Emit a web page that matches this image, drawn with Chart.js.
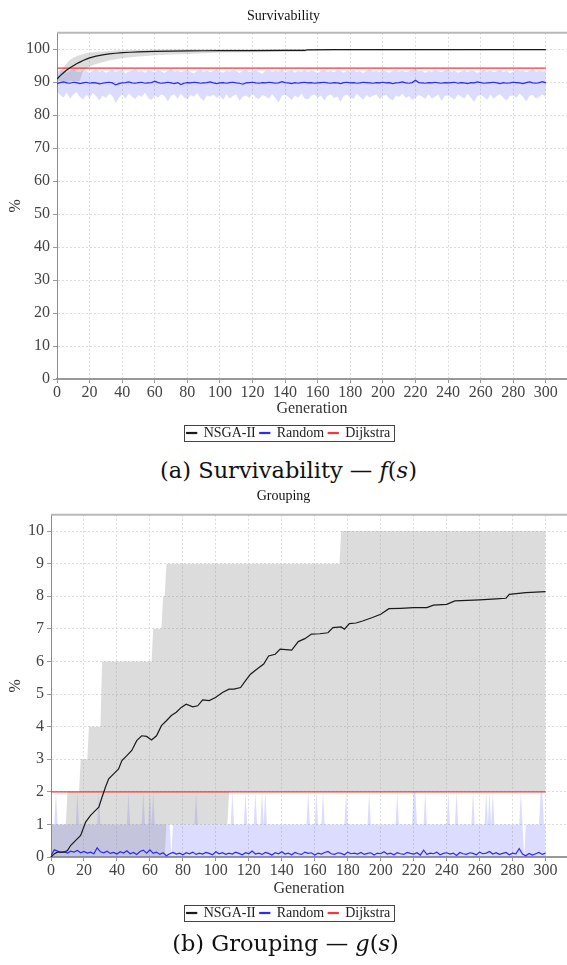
<!DOCTYPE html>
<html>
<head>
<meta charset="utf-8">
<script src="https://cdn.jsdelivr.net/npm/chart.js@4.4.0/dist/chart.umd.min.js"></script>
<style>
body { margin: 0; background: #fff; width: 567px; height: 965px; position: relative; overflow: hidden; }
.box { position: absolute; left: 0; width: 567px; }
.cap { position: absolute; left: 0; width: 567px; text-align: center; font-family: "DejaVu Serif", serif; font-size: 22.5px; color: #111; }
</style>
</head>
<body>
<div class="box" style="top:0"><canvas id="c1" width="567" height="456"></canvas></div>
<div class="cap" style="top:457px;left:5px">(a) Survivability — <i>f</i>(<i>s</i>)</div>
<div class="box" style="top:480px"><canvas id="c2" width="567" height="456"></canvas></div>
<div class="cap" style="top:930px;left:2px">(b) Grouping — <i>g</i>(<i>s</i>)</div>
<script>
// generations sampled every 2 for the noisy Random series
const gens = Array.from({length: 151}, (_, i) => i * 2);
const allGens = Array.from({length: 301}, (_, i) => i);

// ---- (a) Survivability ----
const nsgaGen1 = [0, 2, 4, 6, 8, 10, 12, 14, 16, 18, 20, 24, 28, 32, 36, 40, 45, 50, 55, 60, 70, 80, 90, 100, 120, 140, 152, 154, 170, 200, 250, 300];
const nsgaMean1 = [91.0, 92.0, 92.9, 93.7, 94.4, 95.0, 95.6, 96.1, 96.6, 97.0, 97.4, 97.9, 98.3, 98.6, 98.8, 99.0, 99.1, 99.2, 99.3, 99.35, 99.45, 99.5, 99.55, 99.6, 99.62, 99.65, 99.66, 99.85, 99.88, 99.9, 99.92, 99.92];
const nsgaHi1 = [91.4, 93.0, 94.5, 95.8, 96.8, 97.4, 97.9, 98.3, 98.6, 98.8, 99.0, 99.2, 99.35, 99.5, 99.6, 99.7, 99.75, 99.8, 99.85, 99.9, 99.95, 100, 100, 100, 100, 100, 100, 100, 100, 100, 100, 100];
const nsgaLo1 = [90.6, 90.3, 90.2, 90.1, 90.3, 90.4, 90.4, 90.4, 93.4, 94.1, 94.8, 95.5, 96.1, 96.6, 97.0, 97.3, 97.6, 97.8, 98.0, 98.2, 98.4, 98.6, 98.8, 99.0, 99.1, 99.2, 99.2, 99.6, 99.6, 99.65, 99.7, 99.7];

const randMean1 = [
  89.6, 89.9, 90.1, 89.8, 89.7, 90.0, 89.9, 89.6, 89.8, 90.0,
  89.7, 89.9, 89.8, 89.5, 89.7, 89.9, 90.0, 89.8, 89.2, 89.6,
  89.8, 89.9, 90.1, 89.8, 89.7, 89.9, 90.0, 89.7, 89.8, 89.9,
  90.3, 89.9, 89.7, 89.8, 90.0, 89.8, 89.6, 89.9, 89.3, 89.7,
  89.9, 89.8, 90.0, 89.9, 89.7, 89.8, 89.9, 90.1, 89.8, 89.6,
  89.8, 89.9, 89.7, 89.9, 90.0, 89.8, 89.7, 89.4, 89.8, 89.9,
  90.0, 89.8, 89.7, 89.9, 89.8, 90.0, 89.9, 89.7, 89.8, 90.2,
  89.9, 89.8, 89.6, 89.9, 89.7, 89.9, 90.0, 89.8, 89.9, 89.7,
  89.8, 89.9, 90.0, 89.8, 89.7, 89.9, 89.8, 89.6, 89.9, 90.0,
  89.8, 89.9, 89.7, 89.8, 90.0, 89.9, 89.8, 89.7, 89.9, 89.8,
  90.0, 89.8, 89.9, 89.6, 89.8, 89.9, 90.1, 89.8, 89.7, 89.9,
  90.6, 89.9, 89.8, 89.7, 89.9, 89.8, 90.0, 89.8, 89.7, 89.9,
  89.8, 89.9, 90.0, 89.7, 89.9, 89.8, 89.6, 89.9, 89.8, 90.1,
  89.9, 89.7, 89.8, 89.9, 90.0, 89.8, 89.6, 89.9, 89.7, 89.8,
  90.0, 89.9, 89.8, 89.6, 89.9, 90.1, 89.8, 89.7, 89.9, 90.2,
  89.8
];
const randHi1 = [
  93.2, 93.8, 93.5, 92.9, 93.6, 94.1, 93.3, 93.0, 93.7, 93.4,
  92.8, 93.5, 94.0, 93.2, 93.6, 92.9, 93.4, 93.9, 93.1, 93.5,
  93.8, 92.7, 93.3, 93.6, 94.0, 93.2, 93.5, 92.9, 93.7, 93.4,
  93.1, 93.8, 93.3, 92.8, 93.5, 94.1, 93.2, 93.6, 93.0, 93.4,
  93.9, 93.1, 92.7, 93.5, 93.8, 93.2, 93.6, 93.0, 93.4, 94.0,
  93.3, 92.9, 93.6, 93.2, 93.7, 93.4, 92.8, 93.5, 93.9, 93.1,
  93.4, 93.7, 93.0, 92.6, 93.5, 93.8, 93.2, 93.6, 93.3, 94.1,
  93.0, 93.4, 93.7, 92.9, 93.5, 93.2, 93.8, 93.1, 93.6, 93.3,
  92.8, 93.5, 93.9, 93.2, 93.4, 93.0, 93.7, 93.5, 92.9, 93.6,
  93.3, 93.8, 93.1, 93.4, 92.7, 93.6, 94.0, 93.2, 93.5, 93.1,
  93.7, 93.3, 92.9, 93.5, 93.8, 93.2, 93.6, 93.0, 93.4, 93.9,
  94.2, 93.3, 93.6, 92.8, 93.5, 93.1, 93.7, 93.4, 93.0, 93.6,
  93.9, 93.2, 93.5, 92.9, 93.3, 93.7, 93.1, 93.6, 93.4, 92.8,
  93.5, 93.8, 93.2, 93.6, 93.0, 93.4, 93.9, 93.1, 93.5, 92.7,
  93.3, 93.8, 93.4, 93.6, 93.0, 93.5, 94.0, 93.2, 93.6, 93.3,
  93.5
];
const randLo1 = [
  87.2, 86.1, 85.4, 86.8, 85.0, 86.3, 87.0, 85.6, 84.8, 86.2,
  85.3, 86.7, 85.8, 84.5, 86.0, 85.2, 86.5, 85.9, 83.6, 85.4,
  86.3, 85.1, 86.6, 85.7, 84.9, 86.1, 85.5, 86.8, 85.2, 84.6,
  86.0, 85.3, 86.4, 85.8, 84.2, 85.9, 86.3, 85.0, 86.5, 85.4,
  84.8, 86.1, 85.6, 86.7, 85.2, 84.4, 86.0, 85.7, 86.2, 85.3,
  85.9, 84.7, 86.4, 85.1, 85.8, 86.3, 84.3, 85.6, 86.0, 85.2,
  86.5, 85.4, 84.9, 86.1, 85.7, 85.0, 86.4, 85.3, 83.8, 85.9,
  86.2, 85.5, 84.6, 86.0, 85.3, 86.6, 85.1, 84.8, 85.9, 86.3,
  85.4, 86.0, 84.5, 85.8, 86.4, 85.2, 85.7, 84.1, 85.9, 86.2,
  85.3, 85.0, 86.5, 85.6, 84.7, 86.1, 85.4, 85.9, 86.3, 84.9,
  85.8, 86.2, 85.1, 84.4, 86.0, 85.5, 86.6, 85.2, 85.8, 84.6,
  85.3, 86.1, 85.7, 84.9, 86.4, 85.0, 85.6, 86.2, 84.3, 85.9,
  86.0, 85.4, 84.8, 86.3, 85.7, 85.1, 86.5, 85.3, 84.0, 85.8,
  86.1, 85.5, 84.7, 86.2, 85.0, 85.9, 86.4, 85.2, 84.5, 85.8,
  86.0, 85.3, 86.6, 85.6, 84.2, 85.9, 86.1, 85.0, 85.7, 86.3,
  85.5
];
const dijkstra1 = 94.3;

// ---- (b) Grouping ----
const nsgaGen2 = [0, 2, 4, 8, 10, 12, 15, 18, 21, 24, 27, 29, 31, 33, 35, 38, 41, 43, 46, 49, 52, 55, 58, 61, 64, 67, 70, 73, 76, 79, 82, 86, 89, 92, 96, 100, 104, 108, 111, 115, 118, 121, 125, 129, 132, 136, 139, 146, 150, 154, 158, 163, 168, 171, 176, 178, 181, 185, 189, 195, 200, 205, 212, 220, 228, 232, 240, 245, 260, 270, 276, 278, 288, 300];
const nsgaMean2 = [0, 0.1, 0.15, 0.15, 0.2, 0.36, 0.51, 0.66, 1.07, 1.28, 1.43, 1.53, 1.84, 2.14, 2.40, 2.55, 2.70, 2.96, 3.11, 3.27, 3.57, 3.72, 3.70, 3.59, 3.72, 4.03, 4.18, 4.34, 4.44, 4.59, 4.69, 4.61, 4.64, 4.82, 4.80, 4.90, 5.05, 5.15, 5.15, 5.20, 5.41, 5.61, 5.77, 5.92, 6.17, 6.22, 6.38, 6.35, 6.61, 6.70, 6.84, 6.85, 6.88, 7.04, 7.06, 6.99, 7.16, 7.18, 7.24, 7.35, 7.45, 7.62, 7.63, 7.65, 7.65, 7.73, 7.75, 7.86, 7.89, 7.92, 7.94, 8.06, 8.11, 8.14];
const nsgaBandGen2 = [0, 9, 10, 17, 18, 22, 23, 30, 31, 61, 62, 67, 68, 69, 70, 107, 108, 175, 176, 300];
const nsgaHi2 = [1, 1, 2, 2, 3, 3, 4, 4, 6, 6, 7, 7, 8, 8, 9, 9, 9, 9, 10, 10];
const nsgaLo2 = [0, 0, 0, 0, 0, 0, 0, 0, 0, 0, 0, 0, 0, 0, 1, 1, 2, 2, 2, 2];

const randMean2 = [
  0.05, 0.22, 0.18, 0.14, 0.16, 0.12, 0.18, 0.15, 0.20, 0.13,
  0.17, 0.12, 0.15, 0.10, 0.28, 0.16, 0.13, 0.18, 0.11, 0.14,
  0.09, 0.16, 0.12, 0.19, 0.10, 0.14, 0.08, 0.17, 0.21, 0.12,
  0.22, 0.11, 0.15, 0.08, 0.13, 0.04, 0.10, 0.14, 0.09, 0.12,
  0.07, 0.13, 0.10, 0.15, 0.08, 0.12, 0.09, 0.14, 0.11, 0.07,
  0.16, 0.10, 0.13, 0.08, 0.12, 0.09, 0.15, 0.11, 0.07, 0.13,
  0.10, 0.18, 0.09, 0.12, 0.08, 0.14, 0.11, 0.06, 0.13, 0.10,
  0.16, 0.09, 0.12, 0.07, 0.14, 0.10, 0.08, 0.15, 0.11, 0.13,
  0.06, 0.12, 0.09, 0.14, 0.17, 0.10, 0.08, 0.13, 0.11, 0.07,
  0.15, 0.10, 0.12, 0.09, 0.14, 0.08, 0.11, 0.13, 0.06, 0.12,
  0.10, 0.16, 0.09, 0.12, 0.07, 0.13, 0.10, 0.08, 0.14, 0.11,
  0.09, 0.13, 0.06, 0.21, 0.08, 0.12, 0.10, 0.15, 0.07, 0.11,
  0.13, 0.09, 0.12, 0.05, 0.14, 0.10, 0.08, 0.13, 0.11, 0.07,
  0.15, 0.10, 0.12, 0.17, 0.09, 0.13, 0.08, 0.11, 0.14, 0.07,
  0.12, 0.10, 0.26, 0.09, 0.04, 0.11, 0.06, 0.10, 0.14, 0.08,
  0.12
];
// Random max is 1 except these generations
const randSpikeGens2 = [3, 16, 29, 47, 56, 60, 62, 88, 110, 118, 124, 128, 130, 156, 161, 165, 179, 193, 210, 220, 221, 227, 241, 246, 256, 264, 266, 268, 285, 297, 298];
const randGapGens2 = [73, 287];
const dijkstra2 = 2;

const serif = "'Liberation Serif', 'Times New Roman', serif";
const cGray = 'rgba(150,150,150,0.33)';
const cBlue = 'rgba(80,80,255,0.2)';

const pts = (xs, ys) => xs.map((x, i) => ({x: x, y: ys[i]}));

function lineDs(label, data, color) {
  return {label: label, data: data, borderColor: color, backgroundColor: color,
    borderWidth: 1.2, pointRadius: 0, fill: false, tension: 0};
}
function bandDs(data, color, fill) {
  return {label: '', data: data, borderWidth: 0, borderColor: 'rgba(0,0,0,0)',
    backgroundColor: color, pointRadius: 0, fill: fill, tension: 0};
}

const framePlugin = {
  id: 'frame',
  afterLayout(chart) {
    // legend sits a little right of centre in the original figure
    chart.legend.left += 5;
    chart.legend.right += 5;
  },
  afterDraw(chart) {
    const {ctx, chartArea: a, legend} = chart;
    ctx.save();
    ctx.strokeStyle = '#b8b8b8';
    ctx.lineWidth = 2;
    ctx.beginPath();
    ctx.moveTo(a.left, a.top);
    ctx.lineTo(a.right, a.top);
    ctx.stroke();
    const hb = legend.legendHitBoxes;
    if (hb.length) {
      const l = Math.min(...hb.map(b => b.left)) - 3;
      const r = Math.max(...hb.map(b => b.left + b.width)) + 3;
      const t = hb[0].top - 1;
      const b = hb[0].top + hb[0].height + 1;
      ctx.strokeStyle = '#444';
      ctx.lineWidth = 1;
      ctx.strokeRect(Math.round(l) + 0.5, Math.round(t) + 0.5, Math.round(r - l), Math.round(b - t));
    }
    ctx.restore();
  }
};

function makeOptions(titleText, yMax, yStep, yWidth, titleGap, xHeight) {
  return {
    responsive: false,
    animation: false,
    layout: {padding: {top: 0, right: 0, bottom: 6, left: 0}},
    plugins: {
      title: {display: true, text: titleText, color: '#111',
        font: {family: serif, size: 14, weight: 'normal'}, padding: {top: 8, bottom: titleGap}},
      legend: {
        position: 'bottom',
        labels: {
          filter: item => item.datasetIndex < 3,
          boxWidth: 10, boxHeight: 1, padding: 4, color: '#222',
          font: {family: serif, size: 14}
        }
      },
      tooltip: {enabled: false}
    },
    scales: {
      x: {
        type: 'linear', min: 0, max: 313,
        ticks: {stepSize: 20, includeBounds: false, color: '#444', padding: 0,
          maxRotation: 0, font: {family: serif, size: 16}},
        grid: {color: '#dcdcdc', tickLength: 4, tickColor: '#999'},
        border: {display: true, color: '#999', width: 2, dash: [2, 2]},
        title: {display: true, text: 'Generation', color: '#333',
          font: {family: serif, size: 16}, padding: {top: 0, bottom: 4}},
        afterFit: s => { s.height = xHeight; }
      },
      y: {
        min: 0, max: yMax,
        ticks: {stepSize: yStep, includeBounds: false, color: '#444', padding: 3,
          font: {family: serif, size: 16}},
        grid: {color: '#dcdcdc', tickLength: 4, tickColor: '#999'},
        border: {display: true, color: '#8a8aa8', width: 1, dash: [2, 2]},
        title: {display: true, text: '%', color: '#333',
          font: {family: serif, size: 16}, padding: {top: 6, bottom: 0}},
        afterFit: s => { s.width = yWidth; }
      }
    }
  };
}

new Chart(document.getElementById('c1'), {
  type: 'line',
  data: {
    datasets: [
      lineDs('NSGA-II', pts(nsgaGen1, nsgaMean1), '#1a1a1a'),
      lineDs('Random', pts(gens, randMean1), '#2a2aff'),
      lineDs('Dijkstra', pts([0, 300], [dijkstra1, dijkstra1]), '#ff3333'),
      bandDs(pts(nsgaGen1, nsgaHi1), cGray, '+1'),
      bandDs(pts(nsgaGen1, nsgaLo1), cGray, false),
      bandDs(pts(gens, randHi1), cBlue, '+1'),
      bandDs(pts(gens, randLo1), cBlue, false)
    ]
  },
  options: makeOptions('Survivability', 105, 10, 57, 8, 43),
  plugins: [framePlugin]
});

const randHi2 = allGens.map(g => randSpikeGens2.includes(g) ? 2 : (randGapGens2.includes(g) ? 0 : 1));

new Chart(document.getElementById('c2'), {
  type: 'line',
  data: {
    datasets: [
      lineDs('NSGA-II', pts(nsgaGen2, nsgaMean2), '#1a1a1a'),
      lineDs('Random', pts(gens, randMean2), '#2a2aff'),
      lineDs('Dijkstra', pts([0, 300], [dijkstra2, dijkstra2]), '#ff3333'),
      bandDs(pts(nsgaBandGen2, nsgaHi2), cGray, '+1'),
      bandDs(pts(nsgaBandGen2, nsgaLo2), cGray, false),
      bandDs(pts(allGens, randHi2), cBlue, 'origin')
    ]
  },
  options: makeOptions('Grouping', 10.5, 1, 51, 10, 45),
  plugins: [framePlugin]
});
</script>
</body>
</html>
